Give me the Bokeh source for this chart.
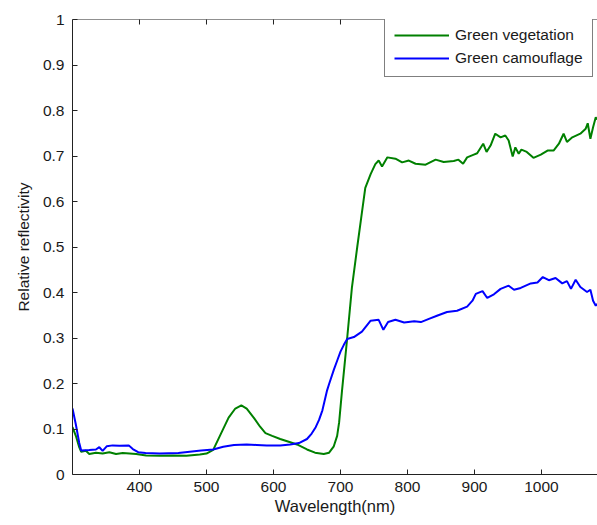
import math
from bokeh.plotting import figure
from bokeh.models import (Range1d, FixedTicker, Legend, LegendItem, Span,
                          CustomJSTickFormatter)
from bokeh.embed import file_html
from bokeh.resources import INLINE

# ---- data ----
veg_wl = [300, 305, 310, 313, 320, 325, 335, 345, 355, 365, 375, 385, 395, 410, 430, 450,
          470, 490, 500, 510, 520, 533, 543, 552, 560, 571, 580, 588, 598, 610, 625, 635,
          650, 662, 675, 683, 690, 695, 698, 702, 706, 710, 717, 725, 731, 737, 745, 752,
          757, 762, 770, 782, 792, 802, 812, 827, 842, 854, 869, 876, 883, 889, 899, 904,
          913, 918, 924, 931, 939, 946, 951, 957, 961, 966, 970, 978, 988, 999, 1009, 1018,
          1026, 1033, 1038, 1046, 1058, 1066, 1069, 1073, 1077, 1081, 1083]
veg_refl = [0.104, 0.085, 0.060, 0.050, 0.052, 0.045, 0.048, 0.046, 0.049, 0.045, 0.047, 0.046,
            0.045, 0.042, 0.041, 0.042, 0.041, 0.044, 0.046, 0.054, 0.085, 0.125, 0.145, 0.152,
            0.145, 0.124, 0.105, 0.091, 0.085, 0.078, 0.071, 0.066, 0.055, 0.048, 0.045, 0.048,
            0.062, 0.085, 0.115, 0.180, 0.240, 0.300, 0.410, 0.500, 0.565, 0.630, 0.660, 0.682,
            0.690, 0.677, 0.697, 0.694, 0.686, 0.690, 0.683, 0.681, 0.692, 0.687, 0.689, 0.692,
            0.683, 0.697, 0.703, 0.706, 0.727, 0.709, 0.723, 0.749, 0.741, 0.745, 0.734, 0.699,
            0.719, 0.705, 0.714, 0.709, 0.696, 0.703, 0.712, 0.712, 0.727, 0.749, 0.731, 0.741,
            0.749, 0.760, 0.772, 0.738, 0.763, 0.785, 0.780]

cam_wl = [300, 305, 310, 313, 325, 335, 340, 345, 351, 360, 370, 384, 390, 398, 409, 430,
          458, 475, 492, 510, 525, 541, 560, 575, 590, 610, 625, 638, 650, 657, 663, 668,
          673, 680, 683, 690, 695, 700, 705, 710, 720, 732, 745, 757, 764, 771, 782, 795,
          810, 820, 832, 844, 859, 874, 889, 897, 902, 912, 919, 929, 939, 951, 959, 969,
          984, 994, 1002, 1011, 1021, 1031, 1038, 1044, 1051, 1058, 1068, 1073, 1077, 1081, 1083]
cam_refl = [0.145, 0.110, 0.070, 0.053, 0.054, 0.055, 0.060, 0.052, 0.062, 0.064, 0.063, 0.064,
            0.056, 0.049, 0.047, 0.046, 0.047, 0.050, 0.053, 0.055, 0.061, 0.065, 0.066, 0.065,
            0.064, 0.064, 0.066, 0.069, 0.078, 0.090, 0.104, 0.120, 0.141, 0.185, 0.199, 0.230,
            0.250, 0.270, 0.285, 0.298, 0.302, 0.314, 0.338, 0.340, 0.318, 0.335, 0.340, 0.334,
            0.337, 0.335, 0.342, 0.349, 0.357, 0.360, 0.369, 0.382, 0.397, 0.403, 0.388, 0.396,
            0.408, 0.415, 0.406, 0.410, 0.420, 0.422, 0.434, 0.427, 0.432, 0.420, 0.425, 0.408,
            0.428, 0.412, 0.401, 0.406, 0.382, 0.371, 0.375]

x_ticks = [400, 500, 600, 700, 800, 900, 1000]
y_ticks = [0, 0.1, 0.2, 0.3, 0.4, 0.5, 0.6, 0.7, 0.8, 0.9, 1]
series_names = ["Green vegetation", "Green camouflage"]
x_label = "Wavelength(nm)"
y_label = "Relative reflectivity"

FONT = "Liberation Sans"
TXT = "#1a1a1a"
AX = "#222222"

p = figure(width=597, height=525, output_backend="svg", toolbar_location=None,
           x_range=Range1d(300, 1083.6), y_range=Range1d(0, 1),
           min_border_left=72, min_border_right=0, min_border_top=19, min_border_bottom=51,
           x_axis_label=x_label, y_axis_label=y_label)
p.outline_line_color = None
p.grid.visible = False
p.background_fill_color = "white"
p.border_fill_color = "white"

r1 = p.line(veg_wl, veg_refl, line_color="#008000", line_width=2)
r2 = p.line(cam_wl, cam_refl, line_color="#0000ff", line_width=2)

for ax in (p.xaxis[0], p.yaxis[0]):
    ax.major_tick_in = 5
    ax.major_tick_out = 0
    ax.minor_tick_line_color = None
    ax.axis_line_color = AX
    ax.major_tick_line_color = AX
    ax.major_label_text_font = FONT
    ax.major_label_text_font_size = "15.5px"
    ax.major_label_text_color = TXT
    ax.axis_label_text_font = FONT
    ax.axis_label_text_font_style = "normal"
    ax.axis_label_text_color = TXT

p.xaxis[0].ticker = FixedTicker(ticks=x_ticks)
p.xaxis[0].major_label_standoff = 7
p.xaxis[0].axis_label_standoff = 2
p.xaxis[0].axis_label_text_font_size = "16.5px"

p.yaxis[0].ticker = FixedTicker(ticks=y_ticks)
p.yaxis[0].formatter = CustomJSTickFormatter(code="return String(Number(tick.toFixed(1)));")
p.yaxis[0].major_label_standoff = 8
p.yaxis[0].axis_label_standoff = 8
p.yaxis[0].axis_label_text_font_size = "15.5px"

# top box edge with inward ticks (the right edge lies outside the picture)
p.add_layout(Span(location=1, dimension="width", line_color=AX, line_width=1))
p.scatter(x_ticks, [1] * len(x_ticks), marker="dash", angle=math.pi / 2, size=10,
          line_color=AX, line_width=1)

legend = Legend(items=[LegendItem(label=series_names[0], renderers=[r1]),
                       LegendItem(label=series_names[1], renderers=[r2])],
                location=(312, 397), margin=0, padding=9, spacing=5,
                glyph_width=55, glyph_height=18, label_height=18, label_standoff=6,
                label_text_font=FONT, label_text_font_size="15.5px", label_text_color=TXT,
                border_line_color="#000000", border_line_width=1,
                background_fill_color="white", background_fill_alpha=1.0)
p.add_layout(legend, "center")

open("out.html", "w").write(file_html(p, INLINE))
